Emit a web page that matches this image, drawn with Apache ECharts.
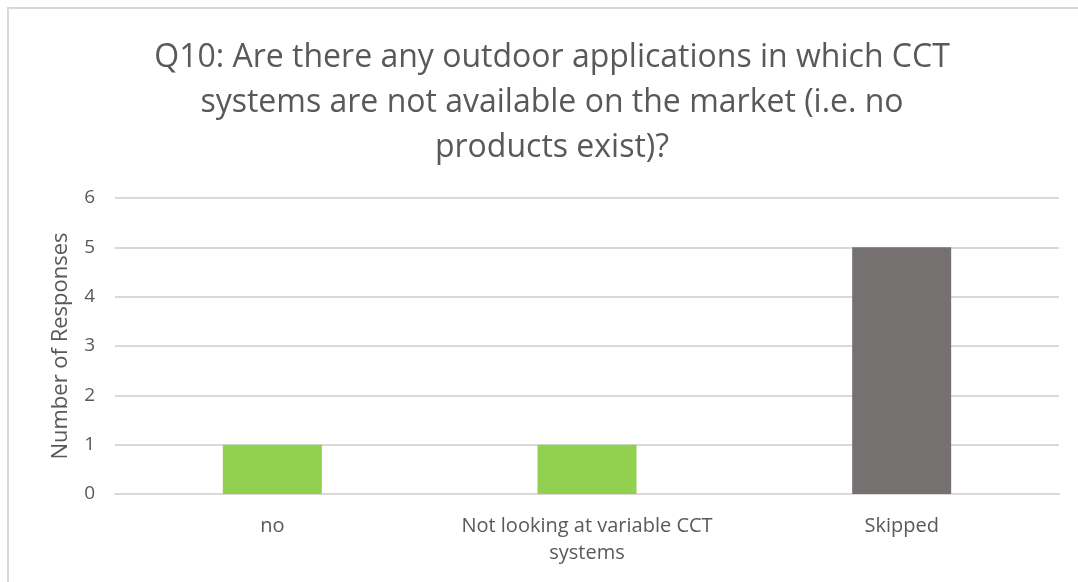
<!DOCTYPE html>
<html>
<head>
<meta charset="utf-8">
<script src="https://cdn.jsdelivr.net/npm/echarts@6/dist/echarts.min.js"></script>
<style>
  html, body { margin: 0; padding: 0; background: #ffffff; }
  #chart { width: 1078px; height: 582px; }
</style>
</head>
<body>
<div id="chart"></div>
<script>
const titleText = "Q10: Are there any outdoor applications in which CCT\nsystems are not available on the market (i.e. no\nproducts exist)?";
const categories = ["no", "Not looking at variable CCT\nsystems", "Skipped"];
const responses = [1, 1, 5];
const barColors = ["#92D050", "#92D050", "#767171"];
const yTicks = [0, 1, 2, 3, 4, 5, 6];
const yAxisName = "Number of Responses";

const chart = echarts.init(document.getElementById('chart'), null, { renderer: 'canvas' });
const fontFamily = "'Open Sans', sans-serif";
chart.setOption({
  animation: false,
  backgroundColor: '#ffffff',
  graphic: [{
    type: 'rect',
    shape: { x: 8, y: 8, width: 1200, height: 700 },
    style: { fill: 'none', stroke: '#d9d9d9', lineWidth: 2 },
    silent: true
  }],
  title: {
    text: titleText,
    left: 547,
    top: 30,
    textAlign: 'center',
    textStyle: {
      fontFamily: fontFamily,
      fontSize: 32,
      fontWeight: 'normal',
      color: '#595959',
      lineHeight: 45
    }
  },
  grid: { left: 115, right: 19, top: 198, bottom: 88, containLabel: false },
  xAxis: {
    type: 'category',
    data: categories,
    axisLine: { show: true, lineStyle: { color: '#d9d9d9', width: 2 } },
    axisTick: { show: false },
    axisLabel: {
      fontFamily: fontFamily,
      fontSize: 20,
      color: '#595959',
      margin: 19,
      lineHeight: 27,
      interval: 0
    }
  },
  yAxis: {
    type: 'value',
    min: yTicks[0],
    max: yTicks[yTicks.length - 1],
    interval: 1,
    name: yAxisName,
    nameLocation: 'middle',
    nameGap: 43,
    nameTextStyle: { fontFamily: fontFamily, fontSize: 22, color: '#595959' },
    axisLine: { show: false },
    axisTick: { show: false },
    splitLine: { show: true, lineStyle: { color: '#d9d9d9', width: 2 } },
    axisLabel: {
      fontFamily: fontFamily,
      fontSize: 19,
      color: '#595959',
      margin: 20
    }
  },
  series: [{
    type: 'bar',
    barWidth: 99,
    data: responses.map((v, i) => ({ value: v, itemStyle: { color: barColors[i] } }))
  }]
});
</script>
</body>
</html>
